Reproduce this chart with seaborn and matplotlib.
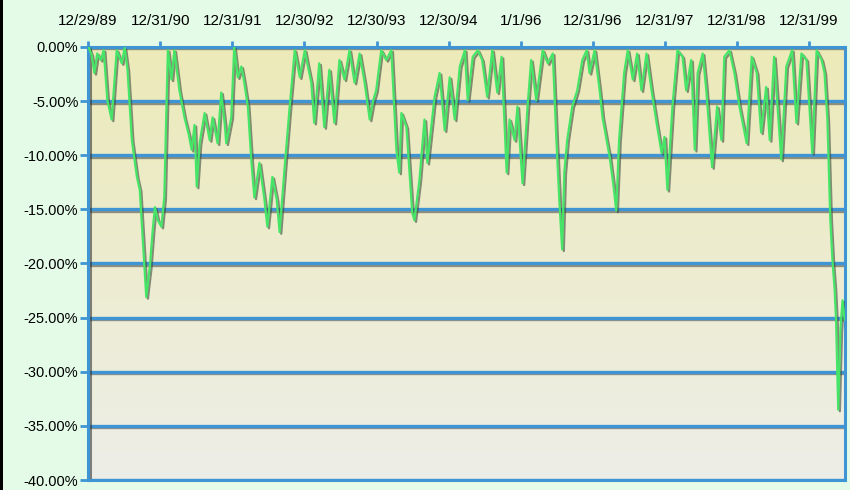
#!/usr/bin/env python3

import matplotlib.pyplot as plt
import matplotlib.patheffects as pe
import numpy as np
import pandas as pd
import seaborn as sns
from matplotlib.patches import Rectangle

# decimal years and drawdown in percent
years = [
    1990.00, 1990.04, 1990.08, 1990.12, 1990.17, 1990.21, 1990.26, 1990.32, 1990.36, 1990.39,
    1990.46, 1990.50, 1990.54, 1990.60, 1990.67, 1990.71, 1990.76, 1990.80, 1990.85, 1990.89,
    1990.92, 1990.96, 1991.01, 1991.05, 1991.10, 1991.15, 1991.19, 1991.26, 1991.33, 1991.39,
    1991.43, 1991.47, 1991.50, 1991.54, 1991.61, 1991.68, 1991.72, 1991.79, 1991.84, 1991.89,
    1991.91, 1991.98, 1992.02, 1992.07, 1992.12, 1992.16, 1992.21, 1992.26, 1992.30, 1992.37,
    1992.44, 1992.48, 1992.55, 1992.61, 1992.65, 1992.72, 1992.79, 1992.86, 1992.93, 1993.00,
    1993.04, 1993.09, 1993.13, 1993.20, 1993.27, 1993.34, 1993.41, 1993.48, 1993.55, 1993.62,
    1993.69, 1993.76, 1993.83, 1993.90, 1993.95, 1993.99, 1994.06, 1994.13, 1994.20, 1994.27,
    1994.31, 1994.34, 1994.41, 1994.45, 1994.49, 1994.52, 1994.59, 1994.66, 1994.70, 1994.80,
    1994.87, 1994.94, 1995.01, 1995.08, 1995.15, 1995.22, 1995.26, 1995.33, 1995.40, 1995.46,
    1995.53, 1995.60, 1995.67, 1995.73, 1995.80, 1995.84, 1995.91, 1995.95, 1996.02, 1996.09,
    1996.14, 1996.21, 1996.30, 1996.37, 1996.44, 1996.49, 1996.53, 1996.57, 1996.60, 1996.64,
    1996.71, 1996.78, 1996.85, 1996.91, 1996.95, 1997.02, 1997.09, 1997.13, 1997.23, 1997.28,
    1997.32, 1997.36, 1997.43, 1997.48, 1997.55, 1997.61, 1997.67, 1997.74, 1997.81, 1997.88,
    1997.95, 1997.99, 1998.03, 1998.10, 1998.17, 1998.24, 1998.29, 1998.36, 1998.41, 1998.45,
    1998.52, 1998.57, 1998.65, 1998.72, 1998.78, 1998.82, 1998.89, 1998.96, 1999.03, 1999.13,
    1999.20, 1999.27, 1999.33, 1999.40, 1999.45, 1999.51, 1999.61, 1999.68, 1999.76, 1999.82,
    1999.89, 1999.96, 2000.04, 2000.10, 2000.17, 2000.21, 2000.25, 2000.29, 2000.32, 2000.35,
    2000.37, 2000.40, 2000.43, 2000.46, 2000.49,
]
drawdown = [
    0.0, -0.7, -2.4, -0.6, -1.2, -0.3, -4.9, -6.7, -3.0, -0.3,
    -1.5, -0.1, -2.1, -8.6, -12.0, -13.2, -18.7, -23.1, -20.3, -16.9,
    -14.8, -16.0, -16.6, -13.9, -0.3, -3.0, -0.3, -4.0, -6.5, -8.1,
    -9.5, -7.2, -12.9, -8.9, -6.1, -8.6, -6.5, -8.9, -4.2, -7.2,
    -8.9, -6.5, 0.0, -2.8, -1.8, -3.3, -5.5, -10.7, -13.9, -10.7,
    -14.1, -16.6, -12.0, -14.1, -17.1, -11.1, -5.5, -0.3, -2.8, -0.3,
    -1.7, -3.3, -7.0, -1.5, -7.4, -2.1, -7.0, -1.2, -3.0, -0.3,
    -3.3, -0.6, -3.3, -6.7, -4.9, -4.0, -0.3, -1.2, -0.3, -9.5,
    -11.6, -6.1, -7.4, -11.4, -15.3, -16.0, -12.3, -6.7, -10.7, -4.6,
    -2.4, -7.7, -2.8, -6.7, -1.8, -0.3, -4.9, -0.9, -0.3, -1.2,
    -4.6, -0.3, -4.2, -0.9, -11.6, -6.7, -8.6, -5.5, -12.6, -5.5,
    -1.2, -4.9, -0.3, -1.5, -0.6, -8.6, -14.1, -18.7, -11.6, -8.6,
    -5.5, -4.0, -1.2, -0.3, -2.4, -0.3, -4.0, -6.5, -10.2, -12.7,
    -15.1, -8.6, -2.4, -0.3, -3.0, -0.6, -4.0, -0.6, -4.0, -7.0,
    -9.8, -8.3, -13.2, -5.5, -0.3, -0.9, -4.0, -1.2, -9.5, -2.4,
    -0.6, -4.0, -11.1, -5.5, -8.6, -0.9, -0.3, -2.4, -5.5, -8.9,
    -0.9, -2.4, -7.9, -3.7, -8.6, -0.9, -10.4, -1.8, -0.3, -7.0,
    -0.6, -1.2, -9.8, -0.3, -1.2, -2.4, -6.7, -15.9, -19.7, -22.4,
    -25.2, -33.5, -26.1, -23.4, -25.2,
]

tick_dates = ["1989-12-29", "1990-12-31", "1991-12-31", "1992-12-30", "1993-12-30",
              "1994-12-30", "1996-01-01", "1996-12-31", "1997-12-31", "1998-12-31",
              "1999-12-31"]
tick_labels = ["12/29/89", "12/31/90", "12/31/91", "12/30/92", "12/30/93",
               "12/30/94", "1/1/96", "12/31/96", "12/31/97", "12/31/98", "12/31/99"]
y_ticks = [0, -5, -10, -15, -20, -25, -30, -35, -40]

sns.set_theme(style="white")
plt.rcParams["font.family"] = ["Liberation Sans", "DejaVu Sans"]

BLUE = "#3f95d3"
GREEN = "#46e567"

yrs = np.array(years)
df = pd.DataFrame({
    "date": pd.Timestamp("1990-01-01") + pd.to_timedelta((yrs - 1990) * 365.25, unit="D"),
    "drawdown": drawdown,
})

fig = plt.figure(figsize=(8.5, 4.9), dpi=100, facecolor="#e3fbe7")
ax = fig.add_axes([88 / 850, 1 - 480 / 490, (845 - 88) / 850, (480 - 47) / 490])

# plot area gradient: pale khaki at top fading to light grey
grad = np.linspace(0, 1, 256)[:, None]
top = np.array([236, 234, 184]) / 255
bot = np.array([238, 238, 232]) / 255
img = top + (bot - top) * grad[..., None]
ax.imshow(img, extent=[0, 1, 0, 1], transform=ax.transAxes, aspect="auto", zorder=0)

sns.lineplot(data=df, x="date", y="drawdown", ax=ax, color=GREEN, linewidth=1.6,
             zorder=5)
ax.lines[-1].set_path_effects([
    pe.SimpleLineShadow(offset=(1.2, -1.2), shadow_color="#3a4a3a", alpha=0.6),
    pe.Normal(),
])

ax.set_xlim(pd.Timestamp("1989-12-29"), pd.Timestamp("2000-06-30"))
ax.set_ylim(-40, 0)

ax.set_yticks(y_ticks)
ax.set_yticklabels([f"{v:.2f}%" for v in y_ticks])
ax.set_xticks(pd.to_datetime(tick_dates))
ax.set_xticklabels(tick_labels)
ax.xaxis.tick_top()
ax.tick_params(axis="x", which="both", top=True, bottom=False, length=4, width=2,
               color=BLUE, pad=10, labelsize=11, labelcolor="black")
ax.tick_params(axis="y", left=True, length=6, width=2, color=BLUE, pad=1,
               labelsize=10.5, labelcolor="black")
ax.set_xlabel("")
ax.set_ylabel("")

ax.grid(axis="y", color=BLUE, linewidth=2.4)
ax.grid(axis="x", visible=False)
for gl in ax.get_ygridlines():
    gl.set_path_effects([
        pe.SimpleLineShadow(offset=(0, -1.0), shadow_color="#333333", alpha=0.5),
        pe.Normal(),
    ])
    gl.set_zorder(2)
ax.set_axisbelow(True)

for side in ["left", "right", "top", "bottom"]:
    ax.spines[side].set_color(BLUE)
    ax.spines[side].set_linewidth(2.2)
    ax.spines[side].set_visible(True)
ax.spines["left"].set_path_effects([
    pe.SimpleLineShadow(offset=(1.5, 0), shadow_color="#333333", alpha=0.6),
    pe.Normal(),
])

# black border on the left edge of the figure
fig.add_artist(Rectangle((0, 0), 3 / 850, 1, transform=fig.transFigure,
                         facecolor="black", edgecolor="none"))

fig.savefig("out.png", dpi=100, facecolor=fig.get_facecolor())
plt.close(fig)
